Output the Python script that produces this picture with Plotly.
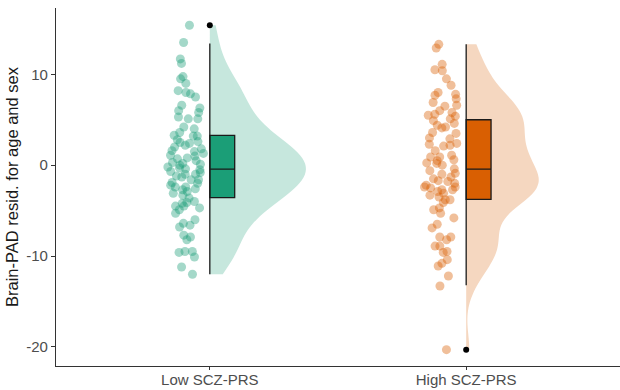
import plotly.graph_objects as go

categories = ["Low SCZ-PRS", "High SCZ-PRS"]
cat_pos = [1, 2]

low_values = [15.4, 13.5, 11.7, 11.2, 9.75, 9.5, 9.0, 7.85, 8.2, 8.0, 7.5, 6.6, 6.3, 6.0, 5.8,
              5.1, 5.3, 5.1, 4.2, 4.0, 3.3, 3.2, 3.2, 2.4, 2.6, 2.5, 2.0, 1.5, 1.3, 1.0, 1.1,
              0.3, 0.0, 0.2, 0.1, -0.2, -0.7, -0.8, -0.5, -1.0, -1.0, -1.6, -1.6, -1.9, -2.4,
              -2.4, -2.6, -2.7, -2.9, -3.1, -3.3, -4.0, -4.1, -4.2, -4.7, -4.5, -4.5, -4.9,
              -5.3, -6.0, -6.4, -6.6, -6.8, -7.7, -7.9, -8.2, -9.5, -9.5, -9.6, -10.1, -11.2,
              -12.0, 3.6, 1.8, 0.7, -0.4, -2.2, 0.5, -0.3, 1.6, -1.3, 2.2, -2.0, -3.6, 0.8,
              -1.2, 2.8]

high_values = [13.3, 12.9, 11.1, 10.5, 10.4, 9.5, 8.8, 8.0, 7.7, 7.8, 6.9, 7.3, 6.5, 6.6, 6.0,
               5.8, 5.4, 5.5, 5.6, 4.9, 5.1, 4.4, 4.2, 4.1, 4.6, 3.6, 3.5, 2.2, 2.1, 2.3, 2.4,
               1.1, 0.9, 0.9, 0.25, 0.2, 0.0, -0.4, -0.9, -1.8, -1.7, -2.4, -2.4, -2.7, -2.2,
               -2.7, -2.9, -3.5, -3.1, -3.8, -3.8, -4.7, -4.9, -5.3, -5.8, -6.5, -6.9, -7.9,
               -7.9, -8.2, -8.9, -8.9, -9.5, -9.6, -10.4, -10.8, -11.1, -12.2, -13.3, -20.3,
               2.9, 0.5, -2.0, -4.1, -1.3, -1.0, -2.5, 0.6, -3.3, 1.6, -0.6, 3.0, -1.5]

# box statistics
q1 = [-3.58, -3.76]
median = [-0.44, -0.44]
q3 = [3.29, 5.0]
whisker_low = [-12.0, -13.2]
whisker_high = [13.4, 13.3]
outliers = [15.4, -20.3]

y_tickvals = [-20, -10, 0, 10]
y_ticktext = ["-20", "-10", "0", "10"]

colors = ["#1B9E77", "#D95F02"]
fills = ["rgba(27,158,119,0.25)", "rgba(217,95,2,0.25)"]
points_col = ["rgba(27,158,119,0.4)", "rgba(217,95,2,0.4)"]
violin_width = [0.75, 0.565]
box_w = 0.097

fig = go.Figure()
groups = [low_values, high_values]
for i, vals in enumerate(groups):
    p = cat_pos[i]
    # half violin
    fig.add_trace(go.Violin(
        x=[p] * len(vals), y=vals, side="positive", spanmode="hard", bandwidth=1.85,
        width=violin_width[i], scalemode="width", fillcolor=fills[i],
        line=dict(width=0, color=fills[i]), points=False, hoverinfo="skip",
        box_visible=False, meanline_visible=False, showlegend=False))
    # jittered raw points (invisible box)
    fig.add_trace(go.Box(
        x=[p] * len(vals), y=vals, boxpoints="all", jitter=0.8, pointpos=-0.88,
        width=0.2, fillcolor="rgba(0,0,0,0)", line=dict(width=0, color="rgba(0,0,0,0)"),
        marker=dict(size=9, color=points_col[i], line=dict(width=0)),
        whiskerwidth=0, showlegend=False, hoverinfo="y"))
    # whisker line
    fig.add_trace(go.Scatter(
        x=[p, p], y=[whisker_low[i], whisker_high[i]], mode="lines",
        line=dict(color="#1a1a1a", width=1.3), showlegend=False, hoverinfo="skip"))
    # box
    fig.add_trace(go.Box(
        x=[p + box_w / 2], q1=[q1[i]], median=[median[i]], q3=[q3[i]],
        lowerfence=[q1[i]], upperfence=[q3[i]], width=box_w,
        fillcolor=colors[i], line=dict(color="#1a1a1a", width=1.3),
        whiskerwidth=0, showlegend=False, boxpoints=False))
    # outlier
    fig.add_trace(go.Scatter(
        x=[p], y=[outliers[i]], mode="markers",
        marker=dict(color="black", size=6), showlegend=False))

fig.update_layout(
    width=620, height=390,
    margin=dict(l=56, r=0, t=8, b=24),
    paper_bgcolor="white", plot_bgcolor="white",
    boxmode="overlay", violinmode="overlay",
    font=dict(family="Liberation Sans, Arial, sans-serif", size=15, color="#4d4d4d"),
    xaxis=dict(range=[0.4, 2.6], tickvals=cat_pos, ticktext=categories,
               showline=True, linecolor="#333333", linewidth=1.1,
               ticks="outside", ticklen=3, tickcolor="#333333", tickwidth=1.1,
               ticklabelstandoff=-3,
               showgrid=False, zeroline=False, automargin=False,
               tickfont=dict(size=15, color="#4d4d4d")),
    yaxis=dict(range=[-22.1, 17.3], tickvals=y_tickvals, ticktext=y_ticktext,
               showline=True, linecolor="#333333", linewidth=1.1,
               ticks="outside", ticklen=4, tickcolor="#333333", tickwidth=1.1,
               showgrid=False, zeroline=False, automargin=False,
               tickfont=dict(size=15, color="#4d4d4d"),
               title=dict(text="Brain-PAD resid. for age and sex",
                          font=dict(size=16.5, color="#1a1a1a"), standoff=3)),
)

fig.write_html("out.html", config={"displayModeBar": False},
               post_script="document.body.style.margin='0';")
